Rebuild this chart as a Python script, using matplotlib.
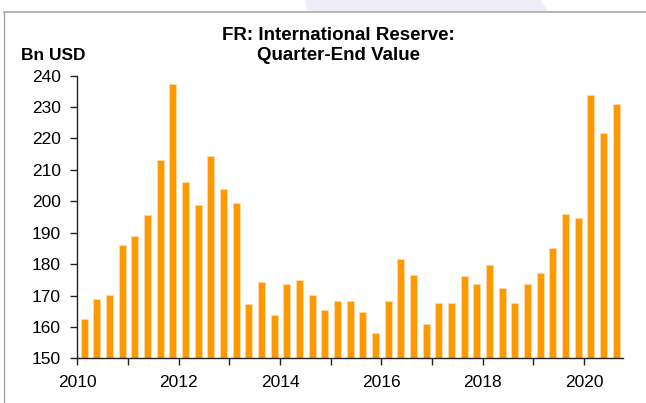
import matplotlib
matplotlib.use("Agg")
import matplotlib.pyplot as plt
from matplotlib.patches import Polygon
from matplotlib.lines import Line2D

plt.rcParams['font.family'] = ['Liberation Sans', 'DejaVu Sans']

# Quarter-end values, 2010Q1 .. 2020Q3 (Bn USD)
values = [162.4, 168.8, 170.1, 186.1, 189.1, 195.7, 213.2, 237.4,
          206.1, 198.8, 214.5, 203.9, 199.4, 167.4, 174.3, 163.7,
          173.8, 174.9, 170.2, 165.5, 168.3, 168.4, 164.7, 158.1,
          168.1, 181.6, 176.6, 160.9, 167.6, 167.6, 176.2, 173.7,
          179.8, 172.5, 167.5, 173.7, 177.1, 185.1, 195.9, 194.6,
          233.7, 221.9, 231.1]
start_year = 2010
year_ticks = list(range(2010, 2021))
year_labels = [str(y) if y % 2 == 0 else "" for y in year_ticks]
y_ticks = list(range(150, 250, 10))
title = "FR: International Reserve:\nQuarter-End Value"
unit_label = "Bn USD"

xpos = [start_year + (i + 0.54) * 0.25 for i in range(len(values))]

fig = plt.figure(figsize=(6.46, 4.03), dpi=100)

# watermark-like shape and frame
wm = Polygon([[305/646, 1.0], [540/646, 1.0], [548/646, 1 - 11/403], [307/646, 1 - 11/403]],
             closed=True, transform=fig.transFigure, facecolor='#EDEDF7', edgecolor='none', zorder=0)
fig.patches.append(wm)
fig.add_artist(Line2D([4/646, 1.0], [1 - 11.5/403, 1 - 11.5/403], transform=fig.transFigure,
                      color='#A8A8A8', lw=1.2))
fig.add_artist(Line2D([4/646, 4/646], [0, 1 - 11.5/403], transform=fig.transFigure,
                      color='#A8A8A8', lw=1.0))

ax = fig.add_axes([77.3/646, 44.7/403, (622.7 - 77.3)/646, (358.3 - 75.7)/403])
ax.bar(xpos, [v - 150 for v in values], bottom=150, width=0.14,
       color='#FF9900', edgecolor='#FFD9A3', linewidth=0.6, zorder=2)

ax.set_xlim(2010, 2020.765)
ax.set_ylim(150, 240)
ax.set_yticks(y_ticks)
ax.set_xticks(year_ticks)
ax.set_xticklabels(year_labels)

for s in ['top', 'right']:
    ax.spines[s].set_visible(False)
for s in ['left', 'bottom']:
    ax.spines[s].set_color('#222222')
    ax.spines[s].set_linewidth(1.0)

ax.tick_params(axis='both', direction='out', length=5, width=1.0, color='#222222',
               labelsize=12.5, labelcolor='black')
ax.tick_params(axis='y', pad=7)
ax.tick_params(axis='x', pad=7)

fig.text(338/646, 1 - 27/403, title, ha='center', va='top', fontsize=13.5,
         fontweight='bold', linespacing=1.22)
fig.text(21/646, 1 - 48/403, unit_label, ha='left', va='top', fontsize=12.5,
         fontweight='bold')

fig.savefig("out.png", dpi=100)
